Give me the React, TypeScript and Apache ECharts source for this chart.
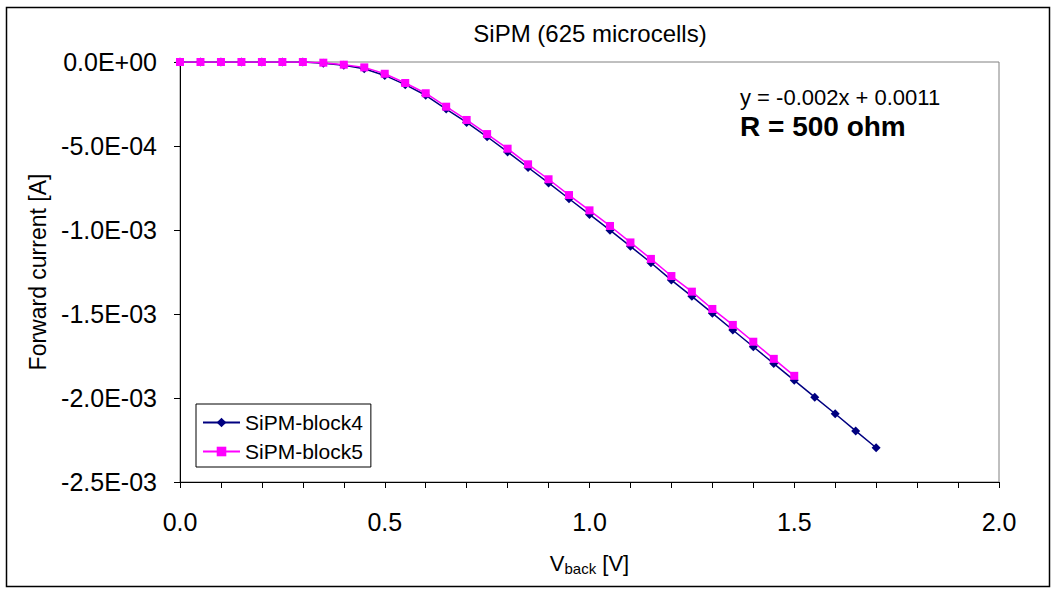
import React, { useEffect, useRef } from "react";
import * as echarts from "echarts";

const titleText = "SiPM (625 microcells)";
const seriesNames = ["SiPM-block4", "SiPM-block5"];

const voltage4 = [0, 0.05, 0.1, 0.15, 0.2, 0.25, 0.3, 0.35, 0.4, 0.45, 0.5, 0.55, 0.6, 0.65, 0.7, 0.75, 0.8, 0.85, 0.9, 0.95, 1.0, 1.05, 1.1, 1.15, 1.2, 1.25, 1.3, 1.35, 1.4, 1.45, 1.5, 1.55, 1.6, 1.65, 1.7];
const current4 = [0, 0, 0, 0, 0, 0, 0, -0.000008, -0.00002, -0.00004, -0.00008, -0.000135, -0.000198, -0.00028, -0.00036, -0.000445, -0.000535, -0.000628, -0.00072, -0.000814, -0.000907, -0.001001, -0.001097, -0.001195, -0.001298, -0.001395, -0.001495, -0.001595, -0.001695, -0.001795, -0.001895, -0.001995, -0.002094, -0.002196, -0.002296];

const voltage5 = [0, 0.05, 0.1, 0.15, 0.2, 0.25, 0.3, 0.35, 0.4, 0.45, 0.5, 0.55, 0.6, 0.65, 0.7, 0.75, 0.8, 0.85, 0.9, 0.95, 1.0, 1.05, 1.1, 1.15, 1.2, 1.25, 1.3, 1.35, 1.4, 1.45, 1.5];
const current5 = [0, 0, 0, 0, 0, 0, 0, -0.000004, -0.000016, -0.000032, -0.00007, -0.000125, -0.000186, -0.000266, -0.000345, -0.000429, -0.000516, -0.000609, -0.000698, -0.000792, -0.000883, -0.000976, -0.001074, -0.001172, -0.001274, -0.001367, -0.00147, -0.001565, -0.001665, -0.001767, -0.001868];

const fitText = "y = -0.002x + 0.0011";
const resistorText = "R = 500 ohm";

const FONT = "Liberation Sans";

function fmtExp(v: number): string {
  if (Math.abs(v) < 1e-12) return "0.0E+00";
  const s = v.toExponential(1);
  const [m, e] = s.split("e");
  const n = parseInt(e, 10);
  return m + "E" + (n < 0 ? "-" : "+") + String(Math.abs(n)).padStart(2, "0");
}

export default function App() {
  const ref = useRef<HTMLDivElement>(null);
  useEffect(() => {
    if (!ref.current) return;
    const chart = echarts.init(ref.current, null, { renderer: "svg" });
    const d4 = voltage4.map((x, i) => [x, current4[i]]);
    const d5 = voltage5.map((x, i) => [x, current5[i]]);
    chart.setOption({
      animation: false,
      backgroundColor: "#ffffff",
      title: {
        text: titleText,
        left: 590,
        top: 21,
        padding: 0,
        textAlign: "center",
        textStyle: { fontFamily: FONT, fontSize: 24, fontWeight: "normal", color: "#000" },
      },
      grid: {
        left: 180,
        top: 62,
        right: 57,
        bottom: 111,
        show: true,
        borderColor: "#808080",
        borderWidth: 1,
        backgroundColor: "#ffffff",
      },
      legend: {
        orient: "vertical",
        left: 196,
        top: 404,
        padding: [8, 8, 5, 6],
        itemGap: 8,
        itemWidth: 37,
        itemHeight: 12,
        borderColor: "#000",
        borderWidth: 1,
        backgroundColor: "#fff",
        textStyle: { fontFamily: FONT, fontSize: 21, color: "#000" },
        data: seriesNames,
      },
      xAxis: {
        type: "value",
        min: 0,
        max: 2,
        interval: 0.5,
        name: "{n|V}{s|back}{n| [V]}",
        nameLocation: "middle",
        nameGap: 68,
        nameTextStyle: {
          rich: {
            n: { fontFamily: FONT, fontSize: 22, color: "#000" },
            s: { fontFamily: FONT, fontSize: 15, color: "#000", verticalAlign: "bottom", padding: [11, 0, 0, 0] },
          },
        },
        axisLine: { show: true, onZero: false, lineStyle: { color: "#000", width: 1 } },
        axisTick: { show: true, inside: false, length: 6, lineStyle: { color: "#000" } },
        minorTick: { show: true, splitNumber: 5, length: 6, lineStyle: { color: "#000" } },
        splitLine: { show: false },
        axisLabel: {
          fontFamily: FONT,
          fontSize: 25,
          color: "#000",
          margin: 27,
          formatter: (v: number) => v.toFixed(1),
        },
      },
      yAxis: {
        type: "value",
        min: -0.0025,
        max: 0,
        interval: 0.0005,
        name: "Forward current [A]",
        nameLocation: "middle",
        nameGap: 131,
        nameTextStyle: { fontFamily: FONT, fontSize: 23, color: "#000" },
        axisLine: { show: true, onZero: false, lineStyle: { color: "#000", width: 1 } },
        axisTick: { show: true, inside: false, length: 6, lineStyle: { color: "#000" } },
        splitLine: { show: false },
        axisLabel: {
          fontFamily: FONT,
          fontSize: 25,
          color: "#000",
          margin: 23,
          formatter: (v: number) => fmtExp(v),
        },
      },
      graphic: [
        {
          type: "rect",
          silent: true,
          z: -10,
          shape: { x: 6.5, y: 7.5, width: 1043, height: 579 },
          style: { fill: "none", stroke: "#000", lineWidth: 1.5 },
        },
        {
          type: "text",
          x: 740,
          y: 97,
          style: { text: fitText, fontFamily: FONT, fontSize: 22, fill: "#000", textVerticalAlign: "middle" },
        },
        {
          type: "text",
          x: 740,
          y: 126,
          style: { text: resistorText, fontFamily: FONT, fontSize: 28, fontWeight: "bold", fill: "#000", textVerticalAlign: "middle" },
        },
      ],
      series: [
        {
          name: seriesNames[0],
          type: "line",
          data: d4,
          symbol: "diamond",
          symbolSize: 9,
          showAllSymbol: true,
          itemStyle: { color: "#000080" },
          lineStyle: { color: "#000080", width: 1.5 },
          z: 2,
        },
        {
          name: seriesNames[1],
          type: "line",
          data: d5,
          symbol: "rect",
          symbolSize: 8,
          showAllSymbol: true,
          itemStyle: { color: "#FF00FF" },
          lineStyle: { color: "#FF00FF", width: 1.5 },
          z: 3,
        },
      ],
    });
    return () => chart.dispose();
  }, []);
  return (
    <div
      ref={ref}
      style={{ position: "fixed", left: 0, top: 0, width: 1056, height: 593, background: "#fff" }}
    />
  );
}
